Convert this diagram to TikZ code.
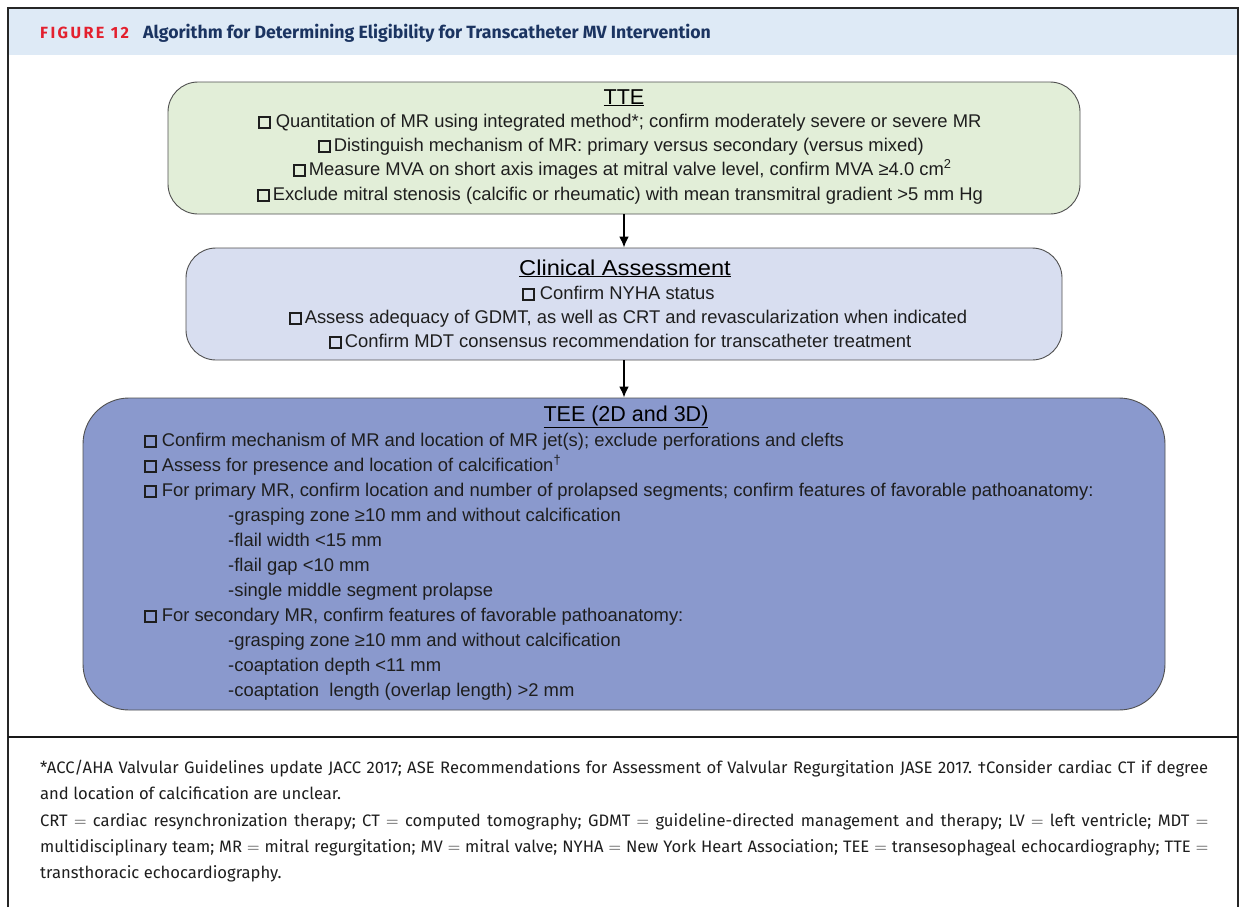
\documentclass[tikz,border=0pt]{standalone}
\usepackage{fontspec}
\setmainfont{Liberation Sans}
\newfontfamily\hdfont{Fira Sans}
\newfontfamily\ftfont{Fira Sans}
\usetikzlibrary{arrows.meta}
\definecolor{hdbg}{HTML}{DEEAF6}
\definecolor{figred}{HTML}{E3202E}
\definecolor{navy}{HTML}{1B3461}
\definecolor{ttefill}{HTML}{E2EED8}
\definecolor{clinfill}{HTML}{D8DEF0}
\definecolor{teefill}{HTML}{8A99CD}
\definecolor{edge}{HTML}{505050}
\definecolor{txt}{HTML}{1E1E1E}
\newcommand\cbx{{\setlength\fboxsep{0pt}\setlength\fboxrule{1.5pt}\fbox{\rule{0pt}{9.5pt}\hspace{9.5pt}}}}
\frenchspacing
\tikzset{
  panel/.style={draw=edge, line width=0.9pt, rounded corners=#1},
  body/.style={font=\fontsize{18.4}{21}\selectfont, text=txt, inner sep=0pt},
  ttl/.style={font=\fontsize{21.5}{24}\selectfont, text=black, inner sep=0pt, anchor=base},
  foot/.style={font=\ftfont\fontsize{16.6}{19}\selectfont, text=txt, inner sep=0pt, anchor=base west},
  flow/.style={line width=2pt, -{Latex[length=11pt,width=10pt]}}
}
\begin{document}
\begin{tikzpicture}[x=1pt,y=-1pt]
\useasboundingbox (0,0) rectangle (1244,907);
\fill[white] (0,0) rectangle (1244,907);
% header
\fill[hdbg] (9,9) rectangle (1237,55);
\node[inner sep=0pt, anchor=base west, font=\hdfont\bfseries\fontsize{16.2}{18}\selectfont, text=figred] (fig) at (40,39) {\addfontfeatures{LetterSpace=15}FIGURE 12};
\node[inner sep=0pt, anchor=base west, font=\hdfont\bfseries\fontsize{17.7}{20}\selectfont, text=navy] (title) at (143,39) {Algorithm for Determining Eligibility for Transcatheter MV Intervention};
% frame
\draw[line width=2pt, black!85] (8,907) -- (8,8) -- (1238,8) -- (1238,907);
\draw[line width=2pt, black!90] (8,737) -- (1238,737);
% boxes
\node[panel=30pt, fill=ttefill, minimum width=912pt, minimum height=132pt] (tte) at (624,148) {};
\node[panel=30pt, fill=clinfill, minimum width=876pt, minimum height=112pt] (clin) at (624,304) {};
\node[panel=46pt, fill=teefill, minimum width=1082pt, minimum height=312pt] (tee) at (624,554) {};
\draw[flow] (tte.south) -- (clin.north);
\draw[flow] (clin.south) -- (tee.north);
% TTE text
\node[ttl] (tteT) at (624,104) {\underline{TTE}};
\node[body, anchor=base west] (t1) at (258,127) {\cbx\ Quantitation of MR using integrated method*; confirm moderately severe or severe MR};
\node[body, anchor=base west] (t2) at (318,151) {\cbx\,Distinguish mechanism of MR: primary versus secondary (versus mixed)};
\node[body, anchor=base west] (t3) at (293,175) {\cbx\,Measure MVA on short axis images at mitral valve level, confirm MVA ≥4.0 cm\textsuperscript{2}};
\node[body, anchor=base west] (t4) at (257,200) {\cbx\,Exclude mitral stenosis (calcific or rheumatic) with mean transmitral gradient >5 mm Hg};
% Clinical text
\node[ttl] (clinT) at (625,275) {\underline{\scalebox{1.1}[1]{Clinical Assessment}}};
\node[body, anchor=base west] (c1) at (522,299) {\cbx\ Confirm NYHA status};
\node[body, anchor=base west] (c2) at (289,323) {\cbx\,Assess adequacy of GDMT, as well as CRT and revascularization when indicated};
\node[body, anchor=base west] (c3) at (329,347) {\cbx\,Confirm MDT consensus recommendation for transcatheter treatment};
% TEE text
\node[ttl] (teeT) at (626,421) {\underline{TEE (2D and 3D)}};
\node[body, anchor=base west] (e1) at (144,446) {\cbx\ Confirm mechanism of MR and location of MR jet(s); exclude perforations and clefts};
\node[body, anchor=base west] (e2) at (144,471) {\cbx\ Assess for presence and location of calcification\textsuperscript{†}};
\node[body, anchor=base west] (e3) at (144,496) {\cbx\ For primary MR, confirm location and number of prolapsed segments; confirm features of favorable pathoanatomy:};
\node[body, anchor=base west] (e4) at (228,521) {-grasping zone ≥10 mm and without calcification};
\node[body, anchor=base west] (e5) at (228,546) {-flail width <15 mm};
\node[body, anchor=base west] (e6) at (228,571) {-flail gap <10 mm};
\node[body, anchor=base west] (e7) at (228,596) {-single middle segment prolapse};
\node[body, anchor=base west] (e8) at (144,621) {\cbx\ For secondary MR, confirm features of favorable pathoanatomy:};
\node[body, anchor=base west] (e9) at (228,646) {-grasping zone ≥10 mm and without calcification};
\node[body, anchor=base west] (e10) at (228,671) {-coaptation depth <11 mm};
\node[body, anchor=base west] (e11) at (228,696) {-coaptation\ \ length (overlap length) >2 mm};
% footer
\node[foot] (f1) at (40,773) {\makebox[1168pt][s]{*ACC/AHA Valvular Guidelines update JACC 2017; ASE Recommendations for Assessment of Valvular Regurgitation JASE 2017. †Consider cardiac CT if degree}};
\node[foot] (f2) at (40,799) {and location of calcification are unclear.};
\node[foot] (f3) at (40,826) {\makebox[1168pt][s]{CRT $=$ cardiac resynchronization therapy; CT $=$ computed tomography; GDMT $=$ guideline-directed management and therapy; LV $=$ left ventricle; MDT $=$}};
\node[foot] (f4) at (40,852) {\makebox[1168pt][s]{multidisciplinary team; MR $=$ mitral regurgitation; MV $=$ mitral valve; NYHA $=$ New York Heart Association; TEE $=$ transesophageal echocardiography; TTE $=$}};
\node[foot] (f5) at (40,878) {transthoracic echocardiography.};
\end{tikzpicture}
\end{document}
